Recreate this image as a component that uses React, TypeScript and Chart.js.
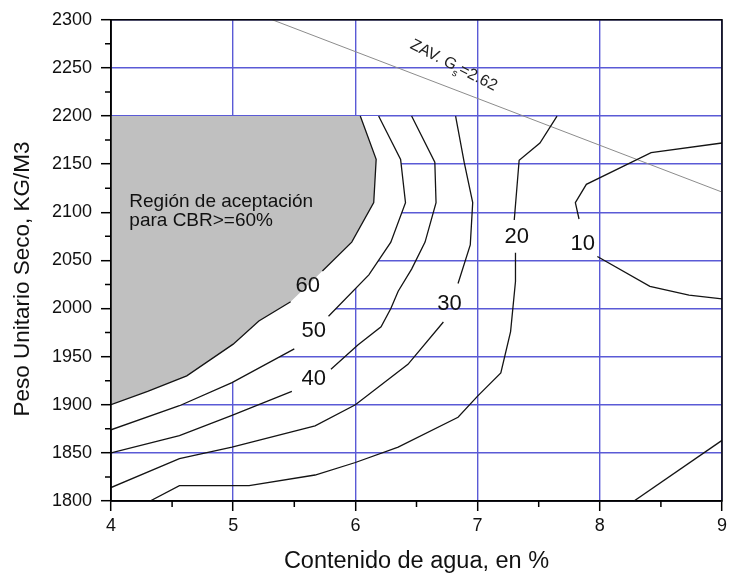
import React, { useEffect, useRef } from "react";
import { Chart, registerables } from "chart.js";

Chart.register(...registerables);

type Pt = [number, number] | null;

// ---- axes ----
const xTickValues = [4, 5, 6, 7, 8, 9];
const xMinorTicks = [4.5, 5.5, 6.5, 7.5, 8.5];
const yTickValues = [1800, 1850, 1900, 1950, 2000, 2050, 2100, 2150, 2200, 2250, 2300];
const yMinorTicks = [1825, 1875, 1925, 1975, 2025, 2075, 2125, 2175, 2225, 2275];
const xTitle = "Contenido de agua, en %";
const yTitle = "Peso Unitario Seco, KG/M3";

// ---- contour lines (null = break for the inline label) ----
const contour60: Pt[] = [
  [4, 1900], [4.3, 1914], [4.62, 1930], [5.0, 1963], [5.21, 1987], [5.47, 2007], null,
  [5.73, 2039], [5.97, 2069], [6.15, 2110], [6.17, 2155], [6.04, 2200],
];
const contour50: Pt[] = [
  [4, 1874], [4.56, 1899], [4.99, 1923], [5.5, 1958], null,
  [5.78, 1992], [6.11, 2035], [6.29, 2069], [6.41, 2110], [6.37, 2155], [6.19, 2200],
];
const contour40: Pt[] = [
  [4, 1850], [4.56, 1868], [4.99, 1889], [5.48, 1914], null,
  [5.8, 1937], [6.02, 1962], [6.21, 1981], [6.29, 2000], [6.35, 2018], [6.46, 2041],
  [6.57, 2069], [6.66, 2110], [6.65, 2152], [6.46, 2200],
];
const contour30: Pt[] = [
  [4, 1814], [4.56, 1844], [4.99, 1856], [5.67, 1878], [6.0, 1900], [6.43, 1942], [6.72, 1986], null,
  [6.84, 2026], [6.94, 2066], [6.96, 2110], [6.89, 2152], [6.82, 2200],
];
const contour20: Pt[] = [
  [4.32, 1800], [4.56, 1816], [5.13, 1816], [5.67, 1827], [6.0, 1840], [6.35, 1856],
  [6.84, 1887], [7.0, 1909], [7.19, 1933], [7.27, 1976], [7.31, 2028], [7.31, 2058], null,
  [7.3, 2092], [7.34, 2154], [7.51, 2172], [7.65, 2200],
];
const contour10: Pt[] = [
  [9, 2172], [8.42, 2162], [7.89, 2129], [7.8, 2110], [7.83, 2093], null,
  [7.98, 2054], [8.41, 2023], [8.73, 2014], [9, 2010],
];
const contourLowerRight: Pt[] = [[8.28, 1800], [9, 1863]];

// corner closing the shaded regions (x min, top of contoured data)
const regionTopLeft: Pt = [4, 2200];

// inline contour labels
const contourLabelText = ["60", "50", "40", "30", "20", "10"];
const contourLabelX = [5.61, 5.66, 5.66, 6.77, 7.32, 7.86];
const contourLabelY = [2023, 1977, 1927, 2005, 2074, 2067];

// zero-air-voids line
const zavLine: Pt[] = [[5.32, 2300], [9, 2121]];
const zavLabelMain = "ZAV. G";
const zavLabelSub = "s";
const zavLabelTail = "=2.62";

const regionText = ["Región de aceptación", "para CBR>=60%"];

const FONT = 'Arial, "Liberation Sans", sans-serif';
const GRID_BLUE = "#5a5ad6";

const toData = (pts: Pt[]) =>
  pts.map((p) => (p ? { x: p[0], y: p[1] } : { x: NaN, y: NaN }));
const solid = (pts: Pt[]) => pts.filter((p) => p !== null);

const lineDs = (pts: Pt[], color = "#141414", width = 1.3) => ({
  data: toData(pts),
  showLine: true,
  fill: false,
  borderColor: color,
  backgroundColor: color,
  borderWidth: width,
  pointRadius: 0,
  tension: 0,
  order: 0,
});

const annotations = {
  id: "annotations",
  afterDraw(chart: any) {
    const { ctx, chartArea: a, scales } = chart;
    const x = scales.x;
    const y = scales.y;
    ctx.save();

    // minor ticks
    ctx.strokeStyle = "#000";
    ctx.lineWidth = 1.5;
    ctx.beginPath();
    yMinorTicks.forEach((v) => {
      const py = y.getPixelForValue(v);
      ctx.moveTo(a.left - 6, py);
      ctx.lineTo(a.left, py);
    });
    xMinorTicks.forEach((v) => {
      const px = x.getPixelForValue(v);
      ctx.moveTo(px, a.bottom);
      ctx.lineTo(px, a.bottom + 6);
    });
    ctx.stroke();

    // frame
    ctx.strokeRect(a.left, a.top, a.right - a.left, a.bottom - a.top);

    // contour labels
    ctx.fillStyle = "#111";
    ctx.font = `22px ${FONT}`;
    ctx.textAlign = "center";
    ctx.textBaseline = "middle";
    contourLabelText.forEach((t, i) => {
      ctx.fillText(t, x.getPixelForValue(contourLabelX[i]), y.getPixelForValue(contourLabelY[i]));
    });

    // region text
    ctx.font = `19px ${FONT}`;
    ctx.textAlign = "left";
    ctx.textBaseline = "alphabetic";
    ctx.fillText(regionText[0], x.getPixelForValue(4.15), y.getPixelForValue(2105));
    ctx.fillText(regionText[1], x.getPixelForValue(4.15), y.getPixelForValue(2086));

    // ZAV label
    ctx.save();
    ctx.translate(x.getPixelForValue(6.81), y.getPixelForValue(2254));
    ctx.rotate((27 * Math.PI) / 180);
    ctx.fillStyle = "#222";
    ctx.font = `16px ${FONT}`;
    const w1 = ctx.measureText(zavLabelMain).width;
    const w3 = ctx.measureText(zavLabelTail).width;
    ctx.font = `10px ${FONT}`;
    const w2 = ctx.measureText(zavLabelSub).width;
    const total = w1 + w2 + w3;
    let cx = -total / 2;
    ctx.textBaseline = "alphabetic";
    ctx.font = `16px ${FONT}`;
    ctx.fillText(zavLabelMain, cx, 6);
    cx += w1;
    ctx.font = `10px ${FONT}`;
    ctx.fillText(zavLabelSub, cx, 11);
    cx += w2;
    ctx.font = `16px ${FONT}`;
    ctx.fillText(zavLabelTail, cx, 6);
    ctx.restore();

    // axis titles
    ctx.fillStyle = "#111";
    ctx.textAlign = "center";
    ctx.textBaseline = "middle";
    ctx.font = `23.5px ${FONT}`;
    ctx.fillText(xTitle, (a.left + a.right) / 2, 562);
    ctx.save();
    ctx.translate(23, 279);
    ctx.rotate(-Math.PI / 2);
    ctx.font = `22.5px ${FONT}`;
    ctx.fillText(yTitle, 0, 0);
    ctx.restore();

    ctx.restore();
  },
};

export default function App() {
  const ref = useRef<HTMLCanvasElement | null>(null);

  useEffect(() => {
    if (!ref.current) return;
    const grayPolygon = [regionTopLeft, ...solid(contour60)];
    const whitePolygon = [regionTopLeft, ...solid(contour50)];

    const gridOpts = {
      color: GRID_BLUE,
      lineWidth: 1.4,
      tickLength: 10,
      tickColor: "#000",
      tickWidth: 1.5,
    };

    const chart = new Chart(ref.current, {
      type: "scatter",
      data: {
        datasets: [
          lineDs(contour60),
          lineDs(contour50),
          lineDs(contour40),
          lineDs(contour30),
          lineDs(contour20),
          lineDs(contour10),
          lineDs(contourLowerRight),
          lineDs(zavLine, "#8c8c8c", 1),
          {
            data: toData(grayPolygon),
            showLine: true,
            fill: "shape",
            backgroundColor: "#c0c0c0",
            borderColor: "rgba(0,0,0,0)",
            borderWidth: 1,
            pointRadius: 0,
            order: 1,
          },
          {
            data: toData(whitePolygon),
            showLine: true,
            fill: "shape",
            backgroundColor: "#ffffff",
            borderColor: "rgba(0,0,0,0)",
            borderWidth: 1,
            pointRadius: 0,
            order: 2,
          },
        ] as any,
      },
      options: {
        responsive: false,
        animation: false,
        events: [],
        layout: { padding: { left: 0, right: 5, top: 16, bottom: 0 } },
        plugins: { legend: { display: false }, tooltip: { enabled: false } },
        scales: {
          x: {
            type: "linear",
            min: 4,
            max: 9,
            afterBuildTicks: (s: any) => {
              s.ticks = xTickValues.map((v) => ({ value: v }));
            },
            afterFit: (s: any) => {
              s.height = 76;
            },
            ticks: {
              font: { family: FONT, size: 18 },
              color: "#111",
              padding: 4,
              callback: (v: any) => String(v),
            },
            grid: gridOpts,
            border: { display: true, color: "#000", width: 1.5 },
          },
          y: {
            type: "linear",
            min: 1800,
            max: 2300,
            afterBuildTicks: (s: any) => {
              s.ticks = yTickValues.map((v) => ({ value: v }));
            },
            afterFit: (s: any) => {
              s.width = 111;
            },
            ticks: {
              font: { family: FONT, size: 18 },
              color: "#111",
              padding: 9,
              callback: (v: any) => String(v),
            },
            grid: gridOpts,
            border: { display: true, color: "#000", width: 1.5 },
          },
        },
      },
      plugins: [annotations],
    });
    return () => chart.destroy();
  }, []);

  return (
    <div style={{ position: "absolute", left: 0, top: 0, width: 731, height: 577, background: "#fff" }}>
      <canvas ref={ref} width={731} height={577} />
    </div>
  );
}
